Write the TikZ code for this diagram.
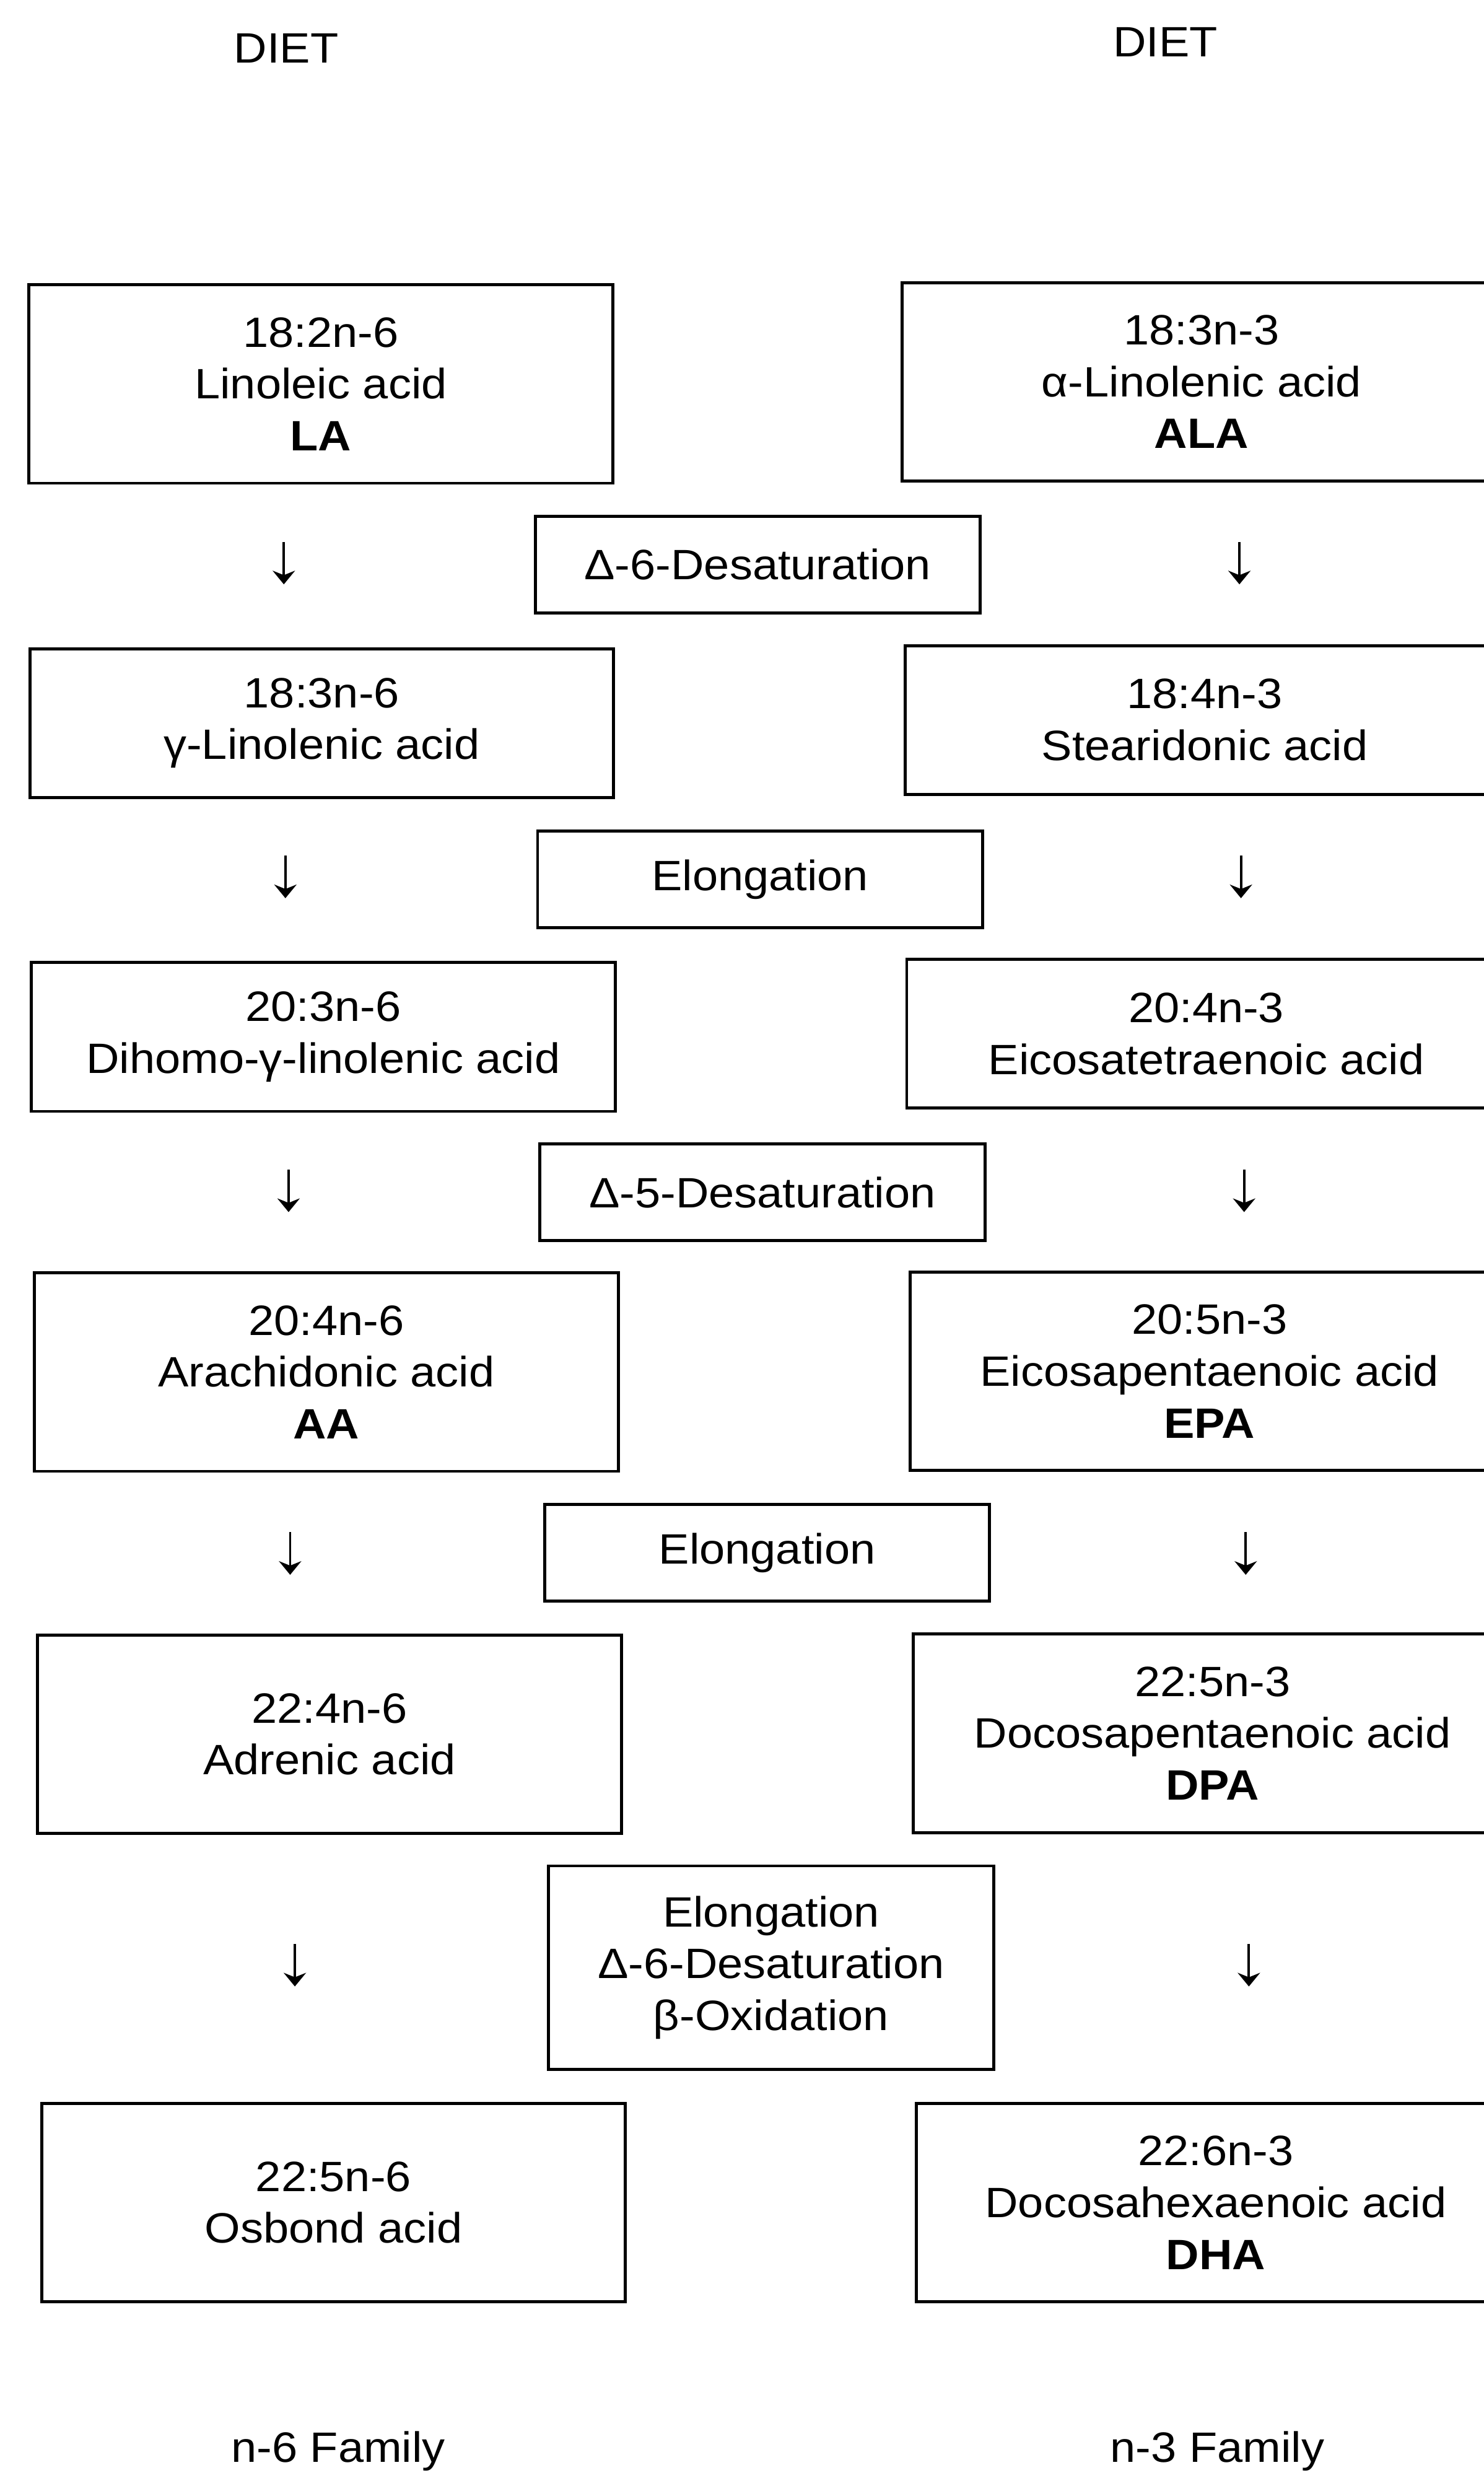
\documentclass[tikz,border=0pt]{standalone}
\usepackage{fontspec}
\setmainfont{Liberation Sans}[FakeStretch=1.08]
\usetikzlibrary{arrows.meta}

\tikzset{
	acid/.style={draw, line width=1.4pt, align=center, inner sep=0pt},
	tallacid/.style={acid, minimum height=3.2cm},
	shortacid/.style={acid, minimum height=2.4cm},
	sixacid/.style={minimum width=9.42cm},
	threeacid/.style={minimum width=9.67cm},
	enzyme/.style={acid, minimum width=7.18cm, minimum height=1.56cm},
	flowarrow/.style={line width=1.1pt, -{Stealth[length=0.22cm,width=0.36cm]}}
}

\begin{document}
\begin{tikzpicture}[x=0.02545cm, y=-0.02545cm, every node/.style={font=\fontsize{19.5}{23.8}\selectfont}]
				\path[use as bounding box, fill=white] (0,0) rectangle (941,1568);

				\node[anchor=base] (dietsix) at (181.5,40) {DIET};
				\node[anchor=base] (dietthree) at (739,36) {DIET};

				\node[tallacid, sixacid] (la) at (203.5,243.5) {18:2n-6\\Linoleic acid\\\textbf{LA}};
				\node[shortacid, sixacid] (gla) at (204,458.5) {18:3n-6\\γ-Linolenic acid};
				\node[shortacid, sixacid] (dgla) at (205,657.5) {20:3n-6\\Dihomo-γ-linolenic acid};
				\node[tallacid, sixacid] (aa) at (207,870) {20:4n-6\\Arachidonic acid\\\textbf{AA}};
				\node[tallacid, sixacid] (adr) at (209,1099.5) {22:4n-6\\Adrenic acid};
				\node[tallacid, sixacid] (osb) at (211.5,1396.5) {22:5n-6\\Osbond acid};

				\node[tallacid, threeacid] (ala) at (762,242) {18:3n-3\\α-Linolenic acid\\\textbf{ALA}};
				\node[shortacid, threeacid] (sda) at (764,456.5) {18:4n-3\\Stearidonic acid};
				\node[shortacid, threeacid] (eta) at (765,655.5) {20:4n-3\\Eicosatetraenoic acid};
				\node[tallacid, threeacid] (epa) at (767,869.5) {20:5n-3\\Eicosapentaenoic acid\\\textbf{EPA}};
				\node[tallacid, threeacid] (dpa) at (769,1099) {22:5n-3\\Docosapentaenoic acid\\\textbf{DPA}};
				\node[tallacid, threeacid] (dha) at (771,1396.5) {22:6n-3\\Docosahexaenoic acid\\\textbf{DHA}};

				\node[enzyme] (desatsix) at (480.5,358) {Δ-6-Desaturation};
				\node[enzyme] (elongone) at (482,557.5) {Elongation};
				\node[enzyme] (desatfive) at (483.5,756) {Δ-5-Desaturation};
				\node[enzyme] (elongtwo) at (486.5,984.5) {Elongation};
				\node[enzyme, minimum height=3.28cm] (retro) at (489,1247.5) {Elongation\\Δ-6-Desaturation\\β-Oxidation};

				\foreach \i/\xl/\xr/\y in {1/180/786/357, 2/181/787/556, 3/183/789/755, 4/184/790/985, 5/187/792/1246} {
					\coordinate (sixtop\i) at (\xl,\y-13.5);
					\coordinate (sixbot\i) at (\xl,\y+13.5);
					\coordinate (threetop\i) at (\xr,\y-13.5);
					\coordinate (threebot\i) at (\xr,\y+13.5);
					\draw[flowarrow] (sixtop\i) -- (sixbot\i);
					\draw[flowarrow] (threetop\i) -- (threebot\i);
				}

				\node[anchor=base] (familysix) at (214.5,1561) {n-6 Family};
				\node[anchor=base] (familythree) at (772,1561) {n-3 Family};
			\end{tikzpicture}
\end{document}
